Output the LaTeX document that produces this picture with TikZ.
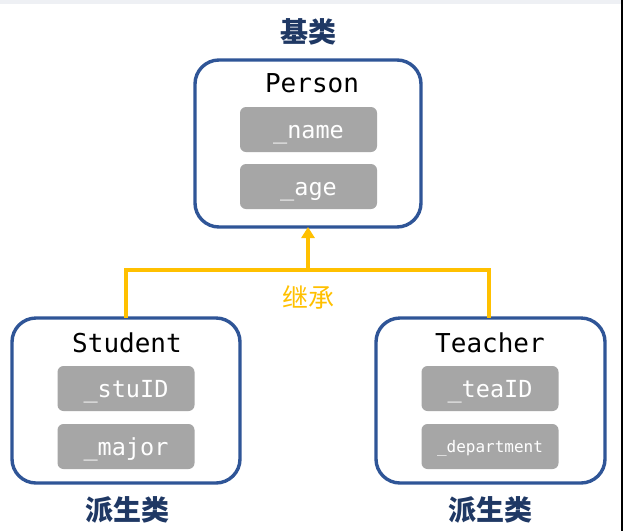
\documentclass[tikz,border=0pt]{standalone}
\usepackage{fontspec}
\newfontfamily\cjk{Noto Sans CJK SC}
\newfontfamily\mono{DejaVu Sans Mono}
\usetikzlibrary{arrows.meta}
\definecolor{boxblue}{HTML}{2F5597}
\definecolor{titleblue}{HTML}{1F3864}
\definecolor{inhorange}{HTML}{FFC000}
\definecolor{fieldgray}{HTML}{A6A6A6}
\definecolor{topband}{HTML}{EEF0F4}
\tikzset{
  classbox/.style={draw=boxblue, line width=3.4pt, rounded corners=24pt, fill=white},
  field/.style={fill=fieldgray, rounded corners=6pt, minimum width=137pt, minimum height=45pt, inner sep=0pt, text=white, text height=17pt, text depth=0pt, font=\mono\fontsize{23.5}{23.5}\selectfont},
  cname/.style={font=\mono\fontsize{26}{26}\selectfont, text=black, inner sep=0pt},
  ctitle/.style={font=\cjk\bfseries\fontsize{28}{28}\selectfont, text=titleblue, inner sep=0pt},
  inh/.style={draw=inhorange, line width=3.8pt},
}
\begin{document}
\begin{tikzpicture}[x=1pt,y=-1pt]
\useasboundingbox (0,0) rectangle (623,531);
\fill[topband] (0,0) rectangle (623,3.5);
\fill[black] (620.5,0) rectangle (623,531);
% Person
\draw[classbox] (195,60) rectangle (421,227);
\coordinate (pbot) at (308,227);
\node[cname] (person) at (312,83) {Person};
\node[field] (name) at (308.5,129.5) {\_name};
\node[field] (age) at (308.5,186.5) {\_age};
\node[ctitle] (base) at (308,32) {基类};
% Student
\draw[classbox] (12,318) rectangle (240,483);
\coordinate (stop) at (126,318);
\node[cname] (student) at (127,343) {Student};
\node[field] (stuid) at (126,388.5) {\_stuID};
\node[field] (major) at (126,446.5) {\_major};
\node[ctitle] (der1) at (127,510) {派生类};
% Teacher
\draw[classbox] (376,318) rectangle (605,483);
\coordinate (ttop) at (489,318);
\node[cname] (teacher) at (490,343) {Teacher};
\node[field] (teaid) at (490,388.5) {\_teaID};
\node[field, text height=11pt, font=\mono\fontsize{16}{16}\selectfont] (dept) at (490,446.5) {\_department};
\node[ctitle] (der2) at (490,510) {派生类};
% inheritance
\coordinate (junc) at (308,270);
\draw[inh] (stop) |- (junc) -| (ttop);
\draw[inh, -{Triangle[width=13pt,length=11pt]}] (junc) -- (pbot);
\node[font=\cjk\fontsize{26}{26}\selectfont, text=inhorange, inner sep=0pt] (inhlabel) at (308,297) {继承};
\end{tikzpicture}
\end{document}
